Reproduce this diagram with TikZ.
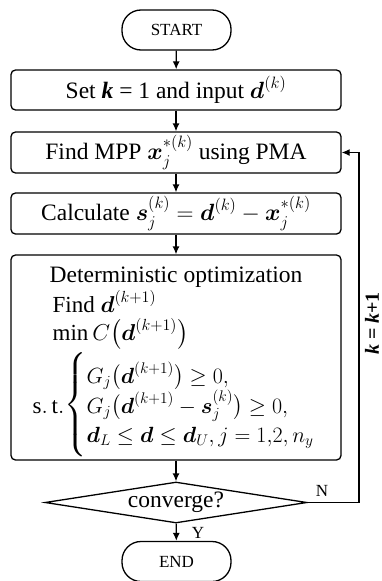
\RequirePackage{fix-cm}
\documentclass[tikz,border=0pt]{standalone}
\usepackage{amsmath}
\usepackage{fontspec}
\setmainfont{Liberation Serif}
\usetikzlibrary{arrows.meta,shapes.geometric}

\tikzset{
  every picture/.style={line width=1.3pt},
  bigtxt/.style={font=\fontsize{23.5}{27}\selectfont},
  mathtxt/.style={font=\fontsize{23}{27}\selectfont, anchor=base west, inner sep=0pt},
  rowtxt/.style={font=\fontsize{22}{26}\selectfont, anchor=base west, inner sep=0pt},
  smalltxt/.style={font=\fontsize{17}{20}\selectfont},
  procbox/.style={draw, rounded corners=4.5pt, minimum width=330pt, inner sep=0pt, bigtxt},
  terminal/.style={draw, rounded corners=19pt, minimum width=109pt, minimum height=40pt, inner sep=0pt, smalltxt},
  decision/.style={draw, diamond, aspect=6.4, minimum width=262pt, minimum height=41pt, inner sep=0pt, bigtxt},
  arr/.style={-{Latex[length=8pt,width=7pt]}},
  lbl/.style={inner sep=0pt, smalltxt},
}

\begin{document}
\begin{tikzpicture}[x=1pt, y=-1pt]
  \useasboundingbox (0,0) rectangle (382,581);

  % terminals and process boxes
  \node[terminal] (start) at (176.5,30) {START};
  \node[procbox, minimum height=40pt] (b1) at (176,90)
    {Set \textbf{\textit{k}} = 1 and input $\boldsymbol{d}^{(k)}$};
  \node[procbox, minimum height=41pt] (b2) at (176,152.5)
    {Find MPP $\boldsymbol{x}_j^{*(k)}$ using PMA};
  \node[procbox, minimum height=41pt] (b3) at (176,213.5)
    {Calculate $\boldsymbol{s}_j^{(k)}=\boldsymbol{d}^{(k)}-\boldsymbol{x}_j^{*(k)}$};
  \node[procbox, minimum height=205pt] (b4) at (176,357.5) {};

  % contents of the optimization box
  \node[bigtxt, anchor=base, inner sep=0pt] (title) at (176,282) {Deterministic optimization};
  \node[mathtxt] (find) at (52,312) {Find $\boldsymbol{d}^{(k+1)}$};
  \node[mathtxt] (obj) at (52,340) {$\min C\bigl(\boldsymbol{d}^{(k+1)}\bigr)$};

  % constraints: label, brace and three rows
  \node[mathtxt] (st) at (32,413) {$\mathrm{s.\,t.}$};
  \node[font=\fontsize{23}{27}\selectfont, inner sep=0pt] (brace) at (76,405)
    {$\left\{\vrule height 46pt depth 46pt width 0pt\right.$};
  \node[rowtxt] (c1) at (86,383) {$G_j\bigl(\boldsymbol{d}^{(k+1)}\bigr)\geq 0,$};
  \node[rowtxt] (c2) at (86,413) {$G_j\bigl(\boldsymbol{d}^{(k+1)}-\boldsymbol{s}_j^{(k)}\bigr)\geq 0,$};
  \node[rowtxt] (c3) at (86,442) {$\boldsymbol{d}_L\leq\boldsymbol{d}\leq\boldsymbol{d}_U,j=1{,}2,n_y$};

  \node[decision] (dec) at (176,502.5) {converge?};
  \node[terminal] (end) at (176.5,561.5) {END};

  % main flow
  \draw[arr] (start) -- (b1);
  \draw[arr] (b1) -- (b2);
  \draw[arr] (b2) -- (b3);
  \draw[arr] (b3) -- (b4);
  \draw[arr] (b4) -- (dec);
  \draw[arr] (dec) -- (end);

  % loop back
  \coordinate (fb1) at (359,502.5);
  \coordinate (fb2) at (359,152.5);
  \draw[arr] (dec.east) -- (fb1) -- (fb2) -- (b2.east);

  \node[lbl] (nlab) at (322,491) {N};
  \node[lbl] (ylab) at (198,533) {Y};
  \node[font=\fontsize{20}{24}\selectfont, rotate=90, inner sep=0pt] (klab) at (372,323.5)
    {\textbf{\textit{k} = \textit{k}+1}};
\end{tikzpicture}
\end{document}
